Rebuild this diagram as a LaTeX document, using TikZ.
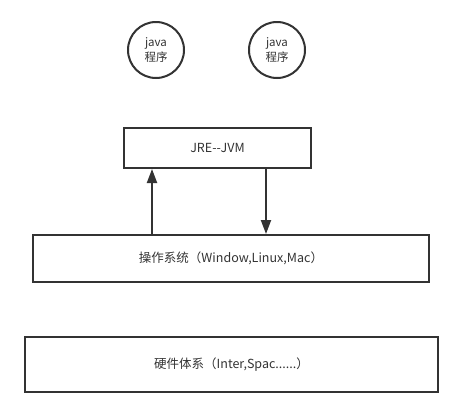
\documentclass[tikz,border=0pt]{standalone}
\usepackage{fontspec}
\setmainfont{Noto Sans CJK SC}
\usetikzlibrary{arrows.meta}
\definecolor{ink}{HTML}{333333}
\begin{document}
\begin{tikzpicture}[x=1pt,y=-1pt,
  box/.style={draw=ink,line width=2pt,text=ink,font=\fontsize{12.5}{14}\selectfont,inner sep=0pt},
  prog/.style={circle,draw=ink,line width=2pt,text=ink,minimum size=56pt,inner sep=0pt,align=center,font=\fontsize{11.5}{14.5}\selectfont},
  arr/.style={draw=ink,line width=2pt,-{Triangle[width=10pt,length=14pt]}}]
\useasboundingbox (0,0) rectangle (463,418);
\node[prog] (p1) at (156,50) {java\\程序};
\node[prog] (p2) at (277,50) {java\\程序};
\node[box,minimum width=187pt,minimum height=40pt] (jre) at (217.5,148) {JRE-{}-JVM};
\node[box,minimum width=396pt,minimum height=47pt] (os) at (231,258.5) {操作系统（Window,Linux,Mac）};
\node[box,minimum width=413pt,minimum height=55pt] (hw) at (231.5,364.5) {硬件体系（Inter,Spac......）};
\coordinate (upx) at (152,0);
\coordinate (dnx) at (266,0);
\draw[arr] (os.north -| upx) -- (jre.south -| upx);
\draw[arr] (jre.south -| dnx) -- (os.north -| dnx);
\end{tikzpicture}
\end{document}
